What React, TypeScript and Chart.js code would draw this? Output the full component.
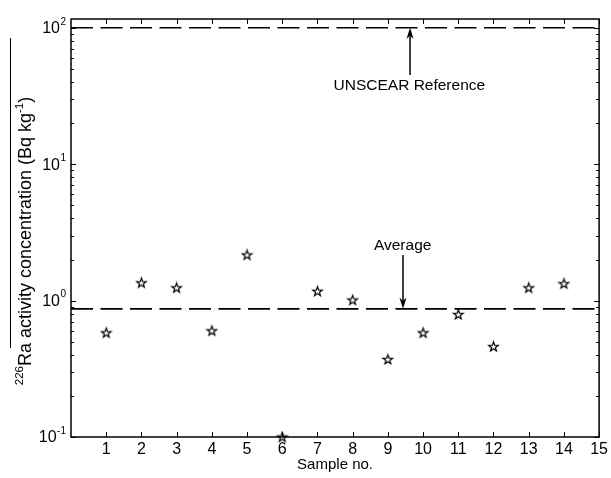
import React, { useEffect, useRef } from 'react';
import { Chart, registerables } from 'chart.js';

Chart.register(...registerables);

// ---- data ----
const sampleNumbers = [1, 2, 3, 4, 5, 6, 7, 8, 9, 10, 11, 12, 13, 14];
const raActivity = [0.58, 1.35, 1.24, 0.6, 2.16, 0.1, 1.17, 1.01, 0.37, 0.58, 0.79, 0.46, 1.24, 1.33];
const averageActivity = 0.87;
const unscearReference = 100;
const xTickValues = [1, 2, 3, 4, 5, 6, 7, 8, 9, 10, 11, 12, 13, 14, 15];
const yDecades = [0.1, 1, 10, 100];
const yDecadeExponents = ['-1', '0', '1', '2'];
const yMinorMultipliers = [2, 3, 4, 5, 6, 7, 8, 9];
const xTitle = 'Sample no.';
const yTitleParts = [
  { text: '226', sup: true },
  { text: 'Ra activity concentration (Bq kg', sup: false },
  { text: '-1', sup: true },
  { text: ')', sup: false },
];
const unscearLabel = 'UNSCEAR Reference';
const averageLabel = 'Average';

const FONT = '"Liberation Sans", Arial, Helvetica, sans-serif';

function makeStar(): HTMLCanvasElement {
  const c = document.createElement('canvas');
  c.width = 13;
  c.height = 13;
  const g = c.getContext('2d')!;
  const R = 5;
  const r = R * 0.4;
  const cx = 6.5;
  const cy = 6.8;
  g.beginPath();
  for (let i = 0; i < 10; i++) {
    const ang = -Math.PI / 2 + (i * Math.PI) / 5;
    const rad = i % 2 === 0 ? R : r;
    const px = cx + rad * Math.cos(ang);
    const py = cy + rad * Math.sin(ang);
    if (i === 0) g.moveTo(px, py);
    else g.lineTo(px, py);
  }
  g.closePath();
  g.strokeStyle = '#000';
  g.lineWidth = 1.2;
  g.stroke();
  return c;
}

function drawArrow(ctx: CanvasRenderingContext2D, x: number, yTail: number, yTip: number) {
  const dir = Math.sign(yTip - yTail);
  const headLen = 11;
  const halfW = 3.5;
  const back = 3;
  ctx.beginPath();
  ctx.moveTo(x, yTail);
  ctx.lineTo(x, yTip - dir * (headLen - back));
  ctx.lineWidth = 1.5;
  ctx.stroke();
  ctx.beginPath();
  ctx.moveTo(x, yTip);
  ctx.lineTo(x - halfW, yTip - dir * headLen);
  ctx.lineTo(x, yTip - dir * (headLen - back));
  ctx.lineTo(x + halfW, yTip - dir * headLen);
  ctx.closePath();
  ctx.fill();
}

const matlabPlugin = {
  id: 'matlabFrame',
  afterDatasetsDraw(chart: any) {
    const ctx: CanvasRenderingContext2D = chart.ctx;
    const { left, right, top, bottom } = chart.chartArea;
    const xs = chart.scales.x;
    const ys = chart.scales.y;
    ctx.save();
    ctx.strokeStyle = '#000';
    ctx.fillStyle = '#000';

    // frame
    ctx.lineWidth = 1.5;
    ctx.strokeRect(left, top, right - left, bottom - top);

    // x ticks (inside, bottom and top)
    ctx.lineWidth = 1;
    ctx.beginPath();
    xTickValues.forEach((v) => {
      const px = Math.round(xs.getPixelForValue(v)) + 0.5;
      ctx.moveTo(px, bottom);
      ctx.lineTo(px, bottom - 5);
      ctx.moveTo(px, top);
      ctx.lineTo(px, top + 5);
    });
    // y ticks (inside, left and right), majors and minors
    yDecades.forEach((d) => {
      const py = Math.round(ys.getPixelForValue(d)) + 0.5;
      ctx.moveTo(left, py);
      ctx.lineTo(left + 5, py);
      ctx.moveTo(right, py);
      ctx.lineTo(right - 5, py);
      if (d < 100) {
        yMinorMultipliers.forEach((m) => {
          const pm = Math.round(ys.getPixelForValue(d * m)) + 0.5;
          ctx.moveTo(left, pm);
          ctx.lineTo(left + 3, pm);
          ctx.moveTo(right, pm);
          ctx.lineTo(right - 3, pm);
        });
      }
    });
    ctx.stroke();

    // y tick labels with superscripts
    ctx.textBaseline = 'middle';
    ctx.textAlign = 'right';
    yDecades.forEach((d, i) => {
      const py = ys.getPixelForValue(d);
      const expX = left - 5;
      ctx.font = `10px ${FONT}`;
      const ew = ctx.measureText(yDecadeExponents[i]).width;
      ctx.fillText(yDecadeExponents[i], expX, py - 6);
      ctx.font = `16px ${FONT}`;
      ctx.fillText('10', expX - ew - 0.5, py + 1);
    });

    // y title (rotated, with superscripts)
    ctx.save();
    const tx = 31;
    const tyCenter = 241;
    ctx.translate(tx, tyCenter);
    ctx.rotate(-Math.PI / 2);
    ctx.textAlign = 'left';
    ctx.textBaseline = 'alphabetic';
    const mainFont = `18px ${FONT}`;
    const supFont = `11.5px ${FONT}`;
    let total = 0;
    const widths = yTitleParts.map((p) => {
      ctx.font = p.sup ? supFont : mainFont;
      const w = ctx.measureText(p.text).width;
      total += w;
      return w;
    });
    let cx = -total / 2;
    yTitleParts.forEach((p, i) => {
      ctx.font = p.sup ? supFont : mainFont;
      ctx.fillText(p.text, cx, p.sup ? -8 : 0);
      cx += widths[i];
    });
    ctx.restore();

    // stray overline next to the y title
    ctx.lineWidth = 1;
    ctx.beginPath();
    ctx.moveTo(10.5, 38);
    ctx.lineTo(10.5, 348);
    ctx.stroke();

    // annotations
    ctx.font = `15.5px ${FONT}`;
    ctx.textAlign = 'center';
    ctx.textBaseline = 'middle';
    const ux = xs.getPixelForValue(9.63);
    drawArrow(ctx, ux, ys.getPixelForValue(45), ys.getPixelForValue(unscearReference));
    ctx.fillText(unscearLabel, xs.getPixelForValue(9.61), ys.getPixelForValue(37.6));

    const ax = xs.getPixelForValue(9.43);
    drawArrow(ctx, ax, ys.getPixelForValue(2.16), ys.getPixelForValue(averageActivity));
    ctx.fillText(averageLabel, xs.getPixelForValue(9.42), ys.getPixelForValue(2.51));

    ctx.restore();
  },
};

export default function App() {
  const ref = useRef<HTMLCanvasElement>(null);

  useEffect(() => {
    document.body.style.margin = '0';
    const star = makeStar();
    const dash = [22, 7.5];
    const chart = new Chart(ref.current!, {
      type: 'scatter',
      data: {
        datasets: [
          {
            label: 'Samples',
            data: sampleNumbers.map((x, i) => ({ x, y: raActivity[i] })),
            pointStyle: star as any,
            pointRadius: 5,
            showLine: false,
            clip: false as any,
          },
          {
            label: 'Average',
            data: [
              { x: 0, y: averageActivity },
              { x: 15, y: averageActivity },
            ],
            showLine: true,
            borderColor: '#000',
            borderWidth: 1.6,
            borderDash: dash,
            pointRadius: 0,
          },
          {
            label: 'UNSCEAR',
            data: [
              { x: 0, y: unscearReference },
              { x: 15, y: unscearReference },
            ],
            showLine: true,
            borderColor: '#000',
            borderWidth: 1.6,
            borderDash: dash,
            pointRadius: 0,
          },
        ],
      },
      options: {
        animation: false,
        responsive: false,
        devicePixelRatio: 1,
        events: [],
        layout: { padding: { top: 19, right: 9, left: 0, bottom: 0 } },
        plugins: { legend: { display: false }, tooltip: { enabled: false } },
        scales: {
          x: {
            type: 'linear',
            min: 0,
            max: 15,
            grid: { display: false, drawTicks: false },
            border: { display: false },
            ticks: {
              stepSize: 1,
              color: '#000',
              font: { family: FONT, size: 16 },
              padding: 3,
              maxRotation: 0,
              autoSkip: false,
              callback: (v: any) => (v === 0 ? '' : String(v)),
            },
            title: {
              display: true,
              text: xTitle,
              color: '#000',
              font: { family: FONT, size: 15 },
              padding: { top: 0, bottom: 4 },
            },
            afterFit: (s: any) => {
              s.height = 41;
            },
          },
          y: {
            type: 'logarithmic',
            min: 0.1,
            max: 116,
            grid: { display: false, drawTicks: false },
            border: { display: false },
            ticks: { display: false },
            afterFit: (s: any) => {
              s.width = 71;
            },
          },
        },
      },
      plugins: [matlabPlugin],
    } as any);
    return () => chart.destroy();
  }, []);

  return (
    <div style={{ width: 611, height: 478 }}>
      <canvas ref={ref} width={611} height={478} style={{ display: 'block' }} />
    </div>
  );
}
